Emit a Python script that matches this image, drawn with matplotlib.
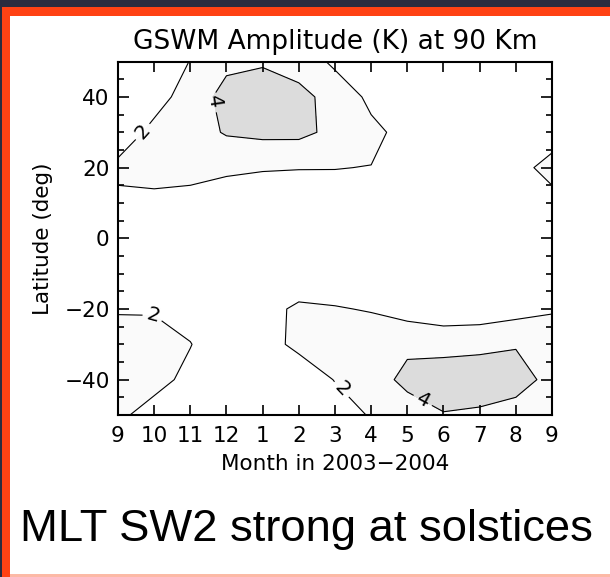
import numpy as np
import matplotlib
matplotlib.use('Agg')
from matplotlib import pyplot as plt
from matplotlib.patches import Rectangle

# month index 0..12 -> Sep 2003 .. Sep 2004
months = np.arange(13)
month_labels = ['9', '10', '11', '12', '1', '2', '3', '4', '5', '6', '7', '8', '9']
lats = np.array([-50, -40, -30, -20, -10, 0, 10, 20, 30, 40, 50])

# amplitude (K), one row per latitude (south -> north), one column per month
amp_s50 = [2.3, 1.4, 1.2, 1.0, 1.0, 1.0, 1.4, 2.1, 3.25, 3.9, 3.65, 3.4, 2.6]
amp_s40 = [3.6, 2.5, 1.6, 1.1, 1.2, 1.2, 2.05, 3.3, 4.4, 5.0, 5.2, 4.6, 3.57]
amp_s30 = [3.05, 2.9, 2.05, 1.0, 1.5, 2.3, 2.8, 2.9, 3.7, 3.4, 3.5, 3.9, 3.2]
amp_s20 = [1.8, 1.8, 1.4, 1.2, 1.6, 2.2, 2.1, 1.9, 1.1, 0.7, 0.8, 1.2, 1.8]
amp_s10 = [1.0, 0.9, 0.9, 1.0, 1.0, 1.2, 1.0, 0.9, 0.8, 0.7, 0.7, 0.8, 1.0]
amp_eq = [0.8, 0.7, 0.7, 0.8, 0.8, 0.8, 0.8, 0.7, 0.7, 0.6, 0.6, 0.7, 0.8]
amp_n10 = [1.5, 1.6, 1.5, 1.4, 1.2, 1.2, 1.1, 1.0, 1.0, 0.9, 1.0, 1.1, 1.5]
amp_n20 = [2.5, 2.6, 2.5, 2.2, 2.1, 2.05, 2.05, 1.95, 1.6, 1.4, 1.4, 1.5, 2.5]
amp_n30 = [0.7, 2.6, 3.0, 4.2, 4.5, 4.5, 3.5, 2.6, 1.2, 1.0, 1.0, 1.1, 1.3]
amp_n40 = [0.5, 1.1, 3.0, 4.6, 5.0, 4.2, 3.75, 1.4, 1.0, 0.8, 0.7, 0.7, 0.6]
amp_n50 = [0.5, 0.8, 2.05, 3.6, 3.8, 3.7, 1.45, 1.0, 0.9, 0.7, 0.6, 0.6, 0.5]

amp = np.array([amp_s50, amp_s40, amp_s30, amp_s20, amp_s10, amp_eq,
                amp_n10, amp_n20, amp_n30, amp_n40, amp_n50])

levels = [2, 4]
# where the contour labels sit (month index, latitude)
label_spots = [(0.69, 30.1), (2.54, 38.3), (0.97, -20.7), (6.19, -42.7), (8.4, -46.4)]

fig = plt.figure(figsize=(6.1, 5.77), dpi=100)

# slide frame
for x, y, w, h, c in [(0, 570 / 577, 1, 7 / 577, '#2a2c3f'),
                      (0, 561 / 577, 1, 9 / 577, '#ff4214'),
                      (0, 0, 2 / 610, 1, '#2a2c3f'),
                      (2 / 610, 0, 8 / 610, 561 / 577, '#ff4214'),
                      (10 / 610, 0, 600 / 610, 3 / 577, '#fcb9a6')]:
    fig.add_artist(Rectangle((x, y), w, h, transform=fig.transFigure, color=c, lw=0, zorder=0))

ax = fig.add_axes([0.1934, 0.2808, 0.7115, 0.6124])
ax.contourf(months, lats, amp, levels=[0] + levels + [10], colors=['white', '#fafafa', '#dcdcdc'])
cs = ax.contour(months, lats, amp, levels=levels, colors='black', linewidths=0.8)
ax.clabel(cs, fmt='%d', fontsize=14.5, inline=True, inline_spacing=4, manual=label_spots)

ax.set_xlim(0, 12)
ax.set_ylim(-50, 50)
ax.set_xticks(months)
ax.set_xticklabels(month_labels)
ax.set_yticks([-40, -20, 0, 20, 40])
ax.set_yticks(np.arange(-50, 51, 5), minor=True)
ax.tick_params(axis='both', which='both', direction='in', top=True, right=True, width=1.2, labelsize=15.5)
ax.tick_params(axis='x', which='major', length=7, pad=8)
ax.tick_params(axis='y', which='major', length=8, pad=6)
ax.tick_params(axis='y', which='minor', length=4)
for s in ax.spines.values():
    s.set_linewidth(1.5)

ax.set_title('GSWM Amplitude (K) at 90 Km', fontsize=19, pad=9)
ax.set_xlabel('Month in 2003\u22122004', fontsize=15.5, labelpad=6)
ax.set_ylabel('Latitude (deg)', fontsize=15.5, labelpad=8)

fig.text(20 / 610, 36 / 577, 'MLT SW2 strong at solstices', fontsize=32.7,
         family='Liberation Sans', ha='left', va='baseline')

fig.savefig('out.png', dpi=100)
